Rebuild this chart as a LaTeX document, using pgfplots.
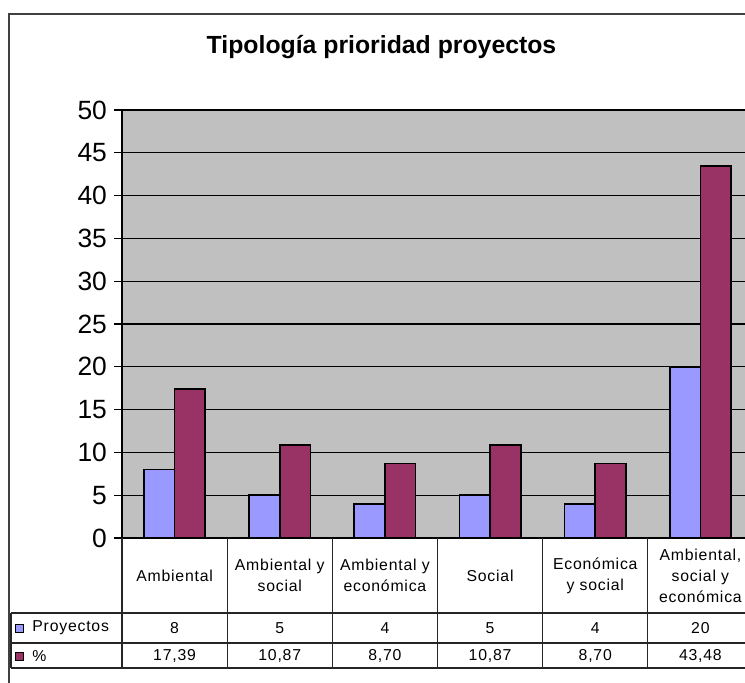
\documentclass[border=0pt]{standalone}
\usepackage{fontspec}
\setmainfont{Liberation Sans}
\newfontfamily\tabfont[LetterSpace=5]{Liberation Sans}
\usepackage{pgfplots}
\pgfplotsset{compat=1.18}
\usepackage{pgfplotstable}
\definecolor{plotgray}{HTML}{C0C0C0}
\definecolor{bluebar}{HTML}{9999FF}
\definecolor{redbar}{HTML}{993366}

\pgfplotstableread{
x proy pct
0 8 17.39
1 5 10.87
2 4 8.70
3 5 10.87
4 4 8.70
5 20 43.48
}\datatable

\begin{document}
\begin{tikzpicture}
\begin{axis}[
  at={(0,0)}, anchor=south west,
  scale only axis, width=315.5pt, height=214pt,
  xmin=-0.5, xmax=5.5, ymin=0, ymax=50,
  ybar=0pt, bar width=15.35pt,
  axis x line*=bottom, axis y line*=left,
  axis line style={black, line width=0.8pt, -},
  xtick=\empty,
  ytick={0,5,...,50},
  tick align=outside, major tick length=4pt,
  tick style={black, line width=0.6pt},
  ymajorgrids, major grid style={black, line width=0.65pt},
  axis background/.style={fill=plotgray},
  /pgf/number format/assume math mode=true,
  yticklabel style={font=\fontsize{13.2}{15}\selectfont},
  clip=false,
]
\addplot[fill=bluebar, draw=black, line width=0.8pt] table[x=x,y=proy]{\datatable};
\addplot[fill=redbar, draw=black, line width=0.8pt] table[x=x,y=pct]{\datatable};
\end{axis}

% title
\node[font=\bfseries\fontsize{12.4}{14}\selectfont] at (129.75pt,245.5pt) {Tipología prioridad proyectos};

% data table
\def\cw{52.583}
\begin{scope}[black!85, line width=0.6pt]
  \draw (-55.5pt,-37.5pt) -- (340pt,-37.5pt);
  \draw (-55.5pt,-52.5pt) -- (340pt,-52.5pt);
  \draw (-55.5pt,-65pt) -- (340pt,-65pt);
  \draw (-55.5pt,-37.5pt) -- (-55.5pt,-65pt);
  \foreach \k in {0,...,6} \draw ({\k*\cw pt},0pt) -- ({\k*\cw pt},-65pt);
\end{scope}

\foreach \k/\lab in {0/{Ambiental}, 1/{Ambiental y\\social}, 2/{Ambiental y\\económica},
                    3/{Social}, 4/{Económica\\y social}, 5/{Ambiental,\\social y\\económica}}
  \node[align=center, font=\tabfont\fontsize{7.9}{10.5}\selectfont] at ({(\k+0.5)*\cw pt},-18.75pt) {\lab};

\foreach \k/\v in {0/8, 1/5, 2/4, 3/5, 4/4, 5/20}
  \node[font=\tabfont\fontsize{7.9}{8}\selectfont] at ({(\k+0.5)*\cw pt},-45pt) {\v};
\foreach \k/\v in {0/{17,39}, 1/{10,87}, 2/{8,70}, 3/{10,87}, 4/{8,70}, 5/{43,48}}
  \node[font=\tabfont\fontsize{7.9}{8}\selectfont] at ({(\k+0.5)*\cw pt},-59pt) {\v};

% legend keys in the table
\draw[black, line width=0.5pt, fill=bluebar] (-53pt,-47pt) rectangle (-49pt,-43pt);
\draw[black, line width=0.5pt, fill=redbar] (-53pt,-61pt) rectangle (-49pt,-57pt);
\node[anchor=west, inner sep=0pt, font=\tabfont\fontsize{7.9}{8}\selectfont] at (-45pt,-45pt) {Proyectos};
\node[anchor=west, inner sep=0pt, font=\tabfont\fontsize{7.9}{8}\selectfont] at (-45pt,-59pt) {\%};

% chart frame
\draw[black!75, line width=0.7pt] (-56.5pt,-90pt) rectangle (340pt,262pt);

\pgfresetboundingbox
\useasboundingbox (-61pt,-72pt) rectangle (311.5pt,269pt);
\end{tikzpicture}
\end{document}
